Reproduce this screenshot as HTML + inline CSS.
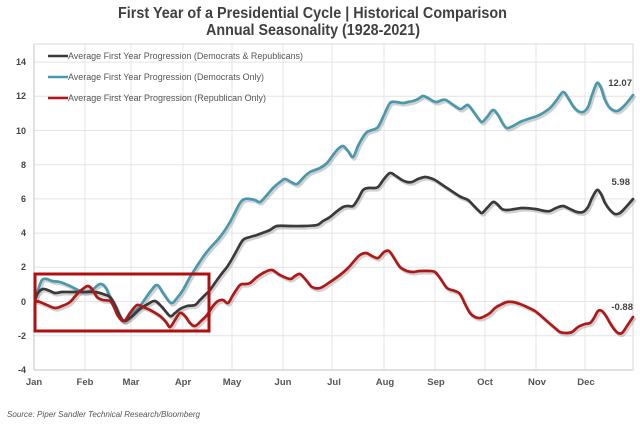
<!DOCTYPE html>
<html><head><meta charset="utf-8"><style>
html,body{margin:0;padding:0;background:#fff;}
svg{display:block;}
text{font-family:"Liberation Sans",Arial,sans-serif;}
</style></head><body>
<svg id="chart" width="640" height="425" viewBox="0 0 640 425" xmlns="http://www.w3.org/2000/svg">
<rect width="640" height="425" fill="#fff"/>
<!-- title -->
<text x="118" y="18" font-size="15.5" font-weight="bold" fill="#404040" textLength="389" lengthAdjust="spacingAndGlyphs">First  Year of a Presidential Cycle | Historical Comparison</text>
<text x="206" y="35" font-size="15.5" font-weight="bold" fill="#404040" textLength="214" lengthAdjust="spacingAndGlyphs">Annual Seasonality (1928-2021)</text>
<!-- grid -->
<g stroke="#e4e4e4" stroke-width="1">
<line x1="34" y1="62.1" x2="633" y2="62.1"/>
<line x1="34" y1="96.3" x2="633" y2="96.3"/>
<line x1="34" y1="130.5" x2="633" y2="130.5"/>
<line x1="34" y1="164.7" x2="633" y2="164.7"/>
<line x1="34" y1="198.9" x2="633" y2="198.9"/>
<line x1="34" y1="233.1" x2="633" y2="233.1"/>
<line x1="34" y1="267.3" x2="633" y2="267.3"/>
<line x1="34" y1="301.5" x2="633" y2="301.5"/>
<line x1="34" y1="335.7" x2="633" y2="335.7"/>
<line x1="85" y1="44" x2="85" y2="370"/>
<line x1="131" y1="44" x2="131" y2="370"/>
<line x1="183" y1="44" x2="183" y2="370"/>
<line x1="232" y1="44" x2="232" y2="370"/>
<line x1="283" y1="44" x2="283" y2="370"/>
<line x1="332" y1="44" x2="332" y2="370"/>
<line x1="384" y1="44" x2="384" y2="370"/>
<line x1="435" y1="44" x2="435" y2="370"/>
<line x1="485" y1="44" x2="485" y2="370"/>
<line x1="536" y1="44" x2="536" y2="370"/>
<line x1="585" y1="44" x2="585" y2="370"/>
</g>
<rect x="34" y="44" width="599" height="326" fill="none" stroke="#d8d8d8" stroke-width="1"/>
<line x1="34" y1="370" x2="633" y2="370" stroke="#cfcfcf" stroke-width="1.2"/>
<line x1="34" y1="44" x2="34" y2="370" stroke="#cfcfcf" stroke-width="1.2"/>
<!-- y labels -->
<g font-size="9" font-weight="bold" fill="#444" text-anchor="end">
<text x="26" y="65">14</text>
<text x="26" y="99">12</text>
<text x="26" y="134">10</text>
<text x="26" y="168">8</text>
<text x="26" y="202">6</text>
<text x="26" y="236">4</text>
<text x="26" y="270">2</text>
<text x="26" y="305">0</text>
<text x="26" y="339">-2</text>
<text x="26" y="373">-4</text>
</g>
<!-- x labels -->
<g font-size="9.5" font-weight="bold" fill="#555" text-anchor="middle">
<text x="34" y="385">Jan</text>
<text x="85" y="385">Feb</text>
<text x="131" y="385">Mar</text>
<text x="183" y="385">Apr</text>
<text x="232" y="385">May</text>
<text x="283" y="385">Jun</text>
<text x="334" y="385">Jul</text>
<text x="385" y="385">Aug</text>
<text x="436" y="385">Sep</text>
<text x="485" y="385">Oct</text>
<text x="537" y="385">Nov</text>
<text x="586" y="385">Dec</text>
</g>
<!-- legend -->
<g stroke-width="2.5">
<line x1="48" y1="56" x2="68" y2="56" stroke="#3a3a3a"/>
<line x1="48" y1="77" x2="68" y2="77" stroke="#4a98ad"/>
<line x1="48" y1="98" x2="68" y2="98" stroke="#b01818"/>
</g>
<g font-size="9" fill="#555">
<text x="68" y="59" textLength="235" lengthAdjust="spacingAndGlyphs">Average First Year Progression (Democrats &amp; Republicans)</text>
<text x="68" y="80" textLength="196" lengthAdjust="spacingAndGlyphs">Average First Year Progression (Democrats Only)</text>
<text x="68" y="101" textLength="198" lengthAdjust="spacingAndGlyphs">Average First Year Progression (Republican Only)</text>
</g>
<!-- series shadows -->
<g fill="none" stroke="#9a9a9a" stroke-opacity="0.45" stroke-width="3.2" stroke-linejoin="round" stroke-linecap="round" transform="translate(1.5,2)">
<polyline class="sm" points="35,300 38,290 42,280 47,279 52,281 60,282 70,286 78,290 85,292 92,290 100,284 106,288 112,303 118,315 124,321 132,314 140,306 150,292 157,285 163,293 171,303 177,298 183,290 190,277 197,266 203,257 210,248 220,237 230,222 240,203 245,199 250,199 255,200 260,202 266,196 273,188 280,182 285,179 291,182 297,184 304,177 310,172 320,168 327,163 333,155 338,149 343,146 348,151 353,157 358,146 363,137 367,132 372,130 378,127 384,115 390,103 396,102 403,103 408,102 413,101 418,99 423,96 428,98 433,101 437,102 442,100 446,100 452,104 460,109 464,107 468,105 473,111 478,118 482,122 487,117 493,110 498,115 503,124 507,128 513,126 520,122 528,119 537,116 543,113 550,108 556,101 563,92 568,98 573,106 578,111 583,112 588,107 592,95 597,83 601,88 605,100 610,108 617,111 624,106 633,95"/>
<polyline class="sm" points="35,300 38,293 43,289 50,291 55,293 62,292 70,292 85,292 95,292 103,294 110,297 115,305 120,316 124,321 130,318 140,309 148,304 155,301 162,307 170,316 175,313 180,309 187,306 195,305 200,300 205,295 210,290 217,280 223,272 227,267 232,259 237,250 243,240 250,237 257,235 265,232 270,230 277,226 290,226 303,226 317,225 323,221 330,217 336,212 343,207 348,206 353,206 358,199 363,190 368,188 373,188 378,187 384,179 390,173 396,176 402,180 407,182 412,182 418,179 425,177 430,178 435,180 444,186 453,192 461,197 468,200 474,206 479,211 482,213 487,208 493,202 497,204 502,209 507,210 515,209 523,208 535,209 545,211 550,211 556,208 563,206 570,209 577,212 583,212 588,207 592,198 597,190 601,194 605,203 610,210 615,214 620,213 626,207 633,199"/>
<polyline class="sm" points="35,301 40,302 47,305 55,308 62,306 70,302 78,293 84,288 88,286 92,289 97,297 103,300 110,301 114,307 118,316 124,321 130,313 137,305 143,307 150,310 160,316 166,322 170,327 175,320 180,313 185,316 190,323 195,326 201,321 207,315 213,306 218,301 223,300 228,303 233,295 240,285 245,284 250,283 257,277 265,272 272,270 280,275 290,279 295,276 300,274 306,280 312,287 320,288 330,282 340,275 348,268 355,260 360,255 366,253 372,256 378,258 384,252 389,251 394,258 400,267 407,271 413,272 420,271 430,271 435,272 440,278 447,288 455,291 460,294 465,304 470,313 475,317 480,318 485,316 490,313 495,308 500,305 507,302 513,302 520,304 527,307 535,311 540,315 548,322 555,328 560,332 566,333 572,332 578,327 585,324 590,323 594,318 598,311 602,311 606,316 610,323 614,329 618,333 622,333 627,326 633,317"/>
</g>
<!-- series -->
<g fill="none" stroke-width="2.7" stroke-linejoin="round" stroke-linecap="round">
<polyline class="sm" stroke="#4a98ad" points="35,300 38,290 42,280 47,279 52,281 60,282 70,286 78,290 85,292 92,290 100,284 106,288 112,303 118,315 124,321 132,314 140,306 150,292 157,285 163,293 171,303 177,298 183,290 190,277 197,266 203,257 210,248 220,237 230,222 240,203 245,199 250,199 255,200 260,202 266,196 273,188 280,182 285,179 291,182 297,184 304,177 310,172 320,168 327,163 333,155 338,149 343,146 348,151 353,157 358,146 363,137 367,132 372,130 378,127 384,115 390,103 396,102 403,103 408,102 413,101 418,99 423,96 428,98 433,101 437,102 442,100 446,100 452,104 460,109 464,107 468,105 473,111 478,118 482,122 487,117 493,110 498,115 503,124 507,128 513,126 520,122 528,119 537,116 543,113 550,108 556,101 563,92 568,98 573,106 578,111 583,112 588,107 592,95 597,83 601,88 605,100 610,108 617,111 624,106 633,95"/>
<polyline class="sm" stroke="#3a3a3a" points="35,300 38,293 43,289 50,291 55,293 62,292 70,292 85,292 95,292 103,294 110,297 115,305 120,316 124,321 130,318 140,309 148,304 155,301 162,307 170,316 175,313 180,309 187,306 195,305 200,300 205,295 210,290 217,280 223,272 227,267 232,259 237,250 243,240 250,237 257,235 265,232 270,230 277,226 290,226 303,226 317,225 323,221 330,217 336,212 343,207 348,206 353,206 358,199 363,190 368,188 373,188 378,187 384,179 390,173 396,176 402,180 407,182 412,182 418,179 425,177 430,178 435,180 444,186 453,192 461,197 468,200 474,206 479,211 482,213 487,208 493,202 497,204 502,209 507,210 515,209 523,208 535,209 545,211 550,211 556,208 563,206 570,209 577,212 583,212 588,207 592,198 597,190 601,194 605,203 610,210 615,214 620,213 626,207 633,199"/>
<polyline class="sm" stroke="#b01818" points="35,301 40,302 47,305 55,308 62,306 70,302 78,293 84,288 88,286 92,289 97,297 103,300 110,301 114,307 118,316 124,321 130,313 137,305 143,307 150,310 160,316 166,322 170,327 175,320 180,313 185,316 190,323 195,326 201,321 207,315 213,306 218,301 223,300 228,303 233,295 240,285 245,284 250,283 257,277 265,272 272,270 280,275 290,279 295,276 300,274 306,280 312,287 320,288 330,282 340,275 348,268 355,260 360,255 366,253 372,256 378,258 384,252 389,251 394,258 400,267 407,271 413,272 420,271 430,271 435,272 440,278 447,288 455,291 460,294 465,304 470,313 475,317 480,318 485,316 490,313 495,308 500,305 507,302 513,302 520,304 527,307 535,311 540,315 548,322 555,328 560,332 566,333 572,332 578,327 585,324 590,323 594,318 598,311 602,311 606,316 610,323 614,329 618,333 622,333 627,326 633,317"/>
</g>
<!-- highlight box -->
<rect x="35" y="274" width="174" height="57" fill="none" stroke="#b00f0f" stroke-width="3"/>
<!-- end labels -->
<g font-size="9.5" font-weight="bold" fill="#444" text-anchor="end">
<text x="632" y="86">12.07</text>
<text x="630" y="185">5.98</text>
<text x="633" y="310">-0.88</text>
</g>
<!-- source -->
<text x="7" y="417" font-size="8.5" font-style="italic" fill="#555" textLength="193" lengthAdjust="spacingAndGlyphs">Source: Piper Sandler Technical Research/Bloomberg</text>
</svg>
<script>
(function(){
try{
var NS="http://www.w3.org/2000/svg";
var pls=document.querySelectorAll("polyline.sm");
for(var i=0;i<pls.length;i++){
var pl=pls[i];
var raw=pl.getAttribute("points").trim().split(/\s+/);
var p=[];
for(var j=0;j<raw.length;j++){var c=raw[j].split(",");p.push([+c[0],+c[1]]);}
var d="M"+p[0][0]+","+p[0][1];
for(var k=0;k<p.length-1;k++){
var p0=p[k>0?k-1:k],p1=p[k],p2=p[k+1],p3=p[k+2<p.length?k+2:k+1];
var t=0.5/3;
var c1x=p1[0]+(p2[0]-p0[0])*t,c1y=p1[1]+(p2[1]-p0[1])*t;
var c2x=p2[0]-(p3[0]-p1[0])*t,c2y=p2[1]-(p3[1]-p1[1])*t;
d+=" C"+c1x.toFixed(2)+","+c1y.toFixed(2)+" "+c2x.toFixed(2)+","+c2y.toFixed(2)+" "+p2[0]+","+p2[1];
}
var path=document.createElementNS(NS,"path");
path.setAttribute("d",d);
var s=pl.getAttribute("stroke");if(s)path.setAttribute("stroke",s);
pl.parentNode.replaceChild(path,pl);
}
}catch(e){}
})();
</script>
</body></html>
